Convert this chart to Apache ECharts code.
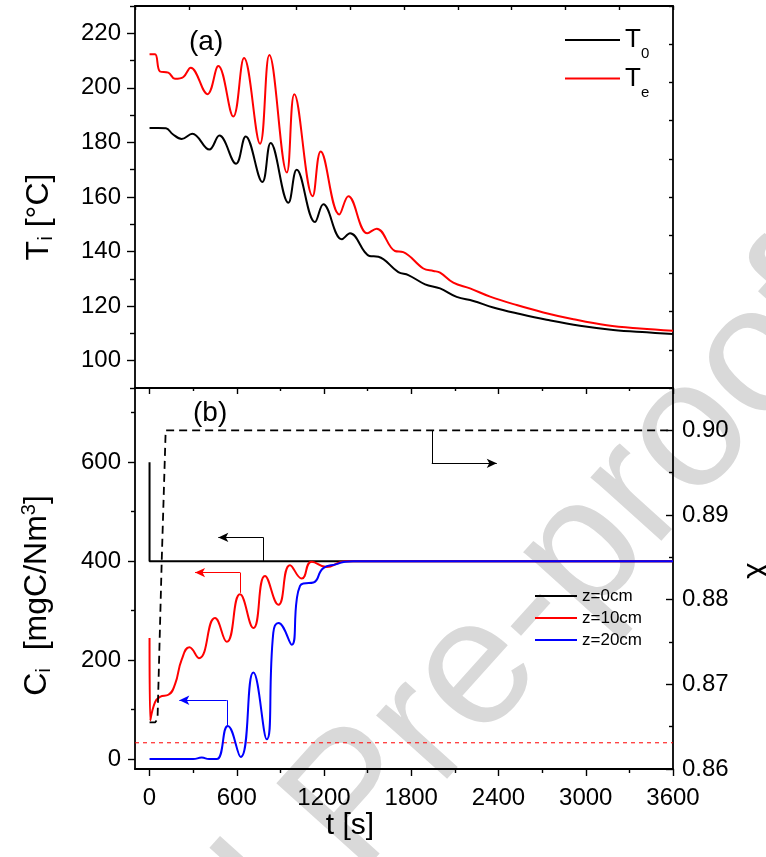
<!DOCTYPE html>
<html><head><meta charset="utf-8">
<script src="https://cdn.jsdelivr.net/npm/echarts@6/dist/echarts.min.js"></script>
<style>html,body{margin:0;padding:0;background:#fff}#c{width:766px;height:857px}</style>
</head><body><div id="c"></div>
<script>
const FONT = '"Liberation Sans", Arial, sans-serif';

// ---- tick values ----
const tMajor = [0, 600, 1200, 1800, 2400, 3000, 3600];
const tMinor = [300, 900, 1500, 2100, 2700, 3300];
const TMajor = [100, 120, 140, 160, 180, 200, 220];
const TMinor = [90, 110, 130, 150, 170, 190, 210, 230];
const CMajor = [0, 200, 400, 600];
const CMinor = [100, 300, 500, 700];
const chiMajor = [0.86, 0.87, 0.88, 0.89, 0.90];
const chiMinor = [0.865, 0.875, 0.885, 0.895];

// ---- panel (a): temperatures [t, T] ----
const T0 = [[0,185.3],[60,185.3],[113,185.2],[160,183],[221,181.3],[294,183.2],[411,177.4],[480,182.5],[595,172.2],[661,182.2],[776,165.5],[833,179.8],[955,157.9],[1012,170],[1138,150.8],[1195,157.3],[1322,144.5],[1379,146.7],[1512,138.4],[1574,138.1],[1711,132.5],[1780,131.4],[1895,128],[1998,126.5],[2112,123.4],[2227,121.9],[2364,119.5],[2548,117.1],[2731,115],[2960,112.8],[3189,111.3],[3419,110.4],[3600,109.8]];
const Te = [[0,212.3],[38,212.3],[72,206],[129,205.6],[175,203.3],[233,204],[283,207.4],[398,197.7],[473,208],[576,189.5],[650,210.9],[760,179.5],[824,212],[944,169],[996,197.7],[1122,160.3],[1177,176.7],[1305,153.6],[1367,160.3],[1498,146.7],[1562,148.4],[1688,140.2],[1745,139.8],[1883,133.8],[1952,132.9],[1998,132.3],[2089,128.6],[2204,126.5],[2342,123.5],[2525,120.4],[2708,117.7],[2915,115.2],[3144,113],[3373,111.8],[3600,111]];

// ---- panel (b): concentrations [t, C] ----
const Cz0 = [[0,600],[0,400],[3600,400]];
const Cz10 = [[0,245],[5,78],[38,115],[72,126],[130,130],[175,151],[221,201],[274,226],[340,204],[450,285],[531,237],[622,333],[714,265],[794,370],[886,312],[966,392],[1047,365],[1115,399],[1219,388],[1310,398],[1360,400],[3600,400]];
const Cz20 = [[0,0],[300,0],[359,3],[410,0],[462,0],[538,67],[627,4],[714,175],[806,40],[851,255],[886,275],[978,231],[1012,322],[1035,350],[1058,355],[1127,357],[1195,386],[1287,394],[1344,399],[1400,400],[3600,400]];
const chi = [[0,0.8655],[38,0.8655],[55,0.8659],[84,0.8847],[111,0.900],[3600,0.900]];
const Climit = [[-100,33],[3600,33]];

const AX = {color:'#000', width:1.8};
const TK = {color:'#000', width:1.4};
const lbl = (vals, fmt, margin) => ({show:true, customValues:vals, fontSize:24, fontFamily:FONT, color:'#000', margin:margin, formatter:fmt});
const noLbl = {show:false};
const noSplit = {show:false};

function xAxis(grid, pos, opt) {
  return Object.assign({gridIndex:grid, type:'value', position:pos, min:-100, max:3600,
    axisLine:{show:opt.line!==false, onZero:false, lineStyle:AX},
    axisTick:opt.ticks ? {show:true, customValues:opt.ticks, inside:!!opt.inside, length:opt.len, lineStyle:TK} : {show:false},
    axisLabel:opt.labels || noLbl, splitLine:noSplit}, opt.extra || {});
}
function yAxis(grid, pos, min, max, opt) {
  return Object.assign({gridIndex:grid, type:'value', position:pos, min:min, max:max,
    axisLine:{show:opt.line!==false, onZero:false, lineStyle:AX},
    axisTick:opt.ticks ? {show:true, customValues:opt.ticks, inside:!!opt.inside, length:opt.len, lineStyle:TK} : {show:false},
    axisLabel:opt.labels || noLbl, splitLine:noSplit}, opt.extra || {});
}

const option = {
  animation:false,
  backgroundColor:'#fff',
  grid:[
    {left:135, right:93, top:6, height:382, outerBoundsMode:'none', containLabel:false},
    {left:135, right:93, top:388, height:381, outerBoundsMode:'none', containLabel:false}
  ],
  xAxis:[
    xAxis(0,'bottom',{}),
    {gridIndex:0, type:'value', position:'top', min:0, max:10, interval:1,
      axisLine:{show:true, onZero:false, lineStyle:AX}, axisTick:{show:true, inside:true, length:4, lineStyle:TK},
      axisLabel:noLbl, splitLine:noSplit},
    xAxis(1,'bottom',{ticks:tMajor, len:7, labels:lbl(tMajor, v=>String(v), 17),
      extra:{name:'t [s]', nameLocation:'middle', nameGap:40,
        nameTextStyle:{fontSize:30, fontFamily:FONT, color:'#000', padding:[0,108,0,0]}}}),
    xAxis(1,'bottom',{ticks:tMinor, len:4, line:false}),
    xAxis(1,'top',{ticks:tMajor, len:6, inside:true}),
    xAxis(1,'top',{ticks:tMinor, len:3, inside:true, line:false})
  ],
  yAxis:[
    yAxis(0,'left',90,230,{ticks:TMajor, len:8, labels:lbl(TMajor, v=>String(v), 14),
      extra:{name:'{t|T}{s|i}{t| [°C]}', nameLocation:'middle', nameGap:78, nameRotate:90,
        nameTextStyle:{color:'#000', padding:[0,40,0,0], rich:{
          t:{fontSize:32, fontFamily:FONT, color:'#000'},
          s:{fontSize:21, fontFamily:FONT, color:'#000', padding:[14,0,0,0]}}}}}),
    yAxis(0,'left',90,230,{ticks:TMinor, len:5, line:false}),
    {gridIndex:0, type:'value', position:'right', min:0, max:10, interval:1,
      axisLine:{show:true, onZero:false, lineStyle:AX}, axisTick:{show:true, inside:true, length:4, lineStyle:TK},
      axisLabel:noLbl, splitLine:noSplit},
    yAxis(1,'left',-20,750,{ticks:CMajor, len:7, labels:lbl(CMajor, v=>String(v), 14),
      extra:{name:'{t|C}{s|i}{t|  [mgC/Nm}{p|3}{t|]}', nameLocation:'middle', nameGap:80, nameRotate:90,
        nameTextStyle:{color:'#000', padding:[0,34,0,0], rich:{
          t:{fontSize:32, fontFamily:FONT, color:'#000'},
          s:{fontSize:21, fontFamily:FONT, color:'#000', padding:[14,0,0,0]},
          p:{fontSize:20, fontFamily:FONT, color:'#000', padding:[0,0,16,0]}}}}}),
    yAxis(1,'left',-20,750,{ticks:CMinor, len:4, line:false}),
    yAxis(1,'right',0.86,0.905,{ticks:chiMajor, len:7, inside:true, labels:lbl(chiMajor, v=>v.toFixed(2), 9),
      extra:{name:'χ', nameLocation:'middle', nameGap:60, nameRotate:90,
        nameTextStyle:{fontSize:32, fontFamily:FONT, color:'#000', padding:[0,0,0,16]}}}),
    yAxis(1,'right',0.86,0.905,{ticks:chiMinor, len:4, inside:true, line:false})
  ],
  legend:[
    {data:['T0','Te'], orient:'vertical', left:560, top:22, itemWidth:55, itemHeight:2, itemGap:4, icon:'rect',
      formatter:n => n==='T0' ? '{t|T}{s|0}' : '{t|T}{s|e}',
      textStyle:{rich:{
        t:{fontSize:26, fontFamily:FONT, color:'#000'},
        s:{fontSize:15, fontFamily:FONT, color:'#000', padding:[28,0,0,0]}}}},
    {data:['z=0cm','z=10cm','z=20cm'], orient:'vertical', left:530, top:580, itemWidth:42, itemHeight:2, itemGap:0, icon:'rect',
      textStyle:{fontSize:17, fontFamily:FONT, color:'#000', lineHeight:22}}
  ],
  graphic:[
    {type:'text', z:-10, x:-40, y:1380, rotation:48*Math.PI/180,
      style:{text:'Journal Pre-proof', font:'180px "Liberation Sans", Arial, sans-serif', fill:'#d9d9d9', textAlign:'left', textVerticalAlign:'bottom'}},
    {type:'text', left:189, top:28, style:{text:'(a)', font:'28px "Liberation Sans", Arial, sans-serif', fill:'#000'}},
    {type:'text', left:193, top:399, style:{text:'(b)', font:'28px "Liberation Sans", Arial, sans-serif', fill:'#000'}}
  ],
  series:[
    {name:'T0', type:'line', xAxisIndex:0, yAxisIndex:0, data:T0, smooth:0.4, showSymbol:false, symbol:'none',
      color:'#000', lineStyle:{color:'#000', width:2}},
    {name:'Te', type:'line', xAxisIndex:0, yAxisIndex:0, data:Te, smooth:0.4, showSymbol:false, symbol:'none',
      color:'#ff0000', lineStyle:{color:'#ff0000', width:2}},
    {name:'limit', type:'line', xAxisIndex:2, yAxisIndex:3, data:Climit, symbol:'none',
      lineStyle:{color:'#ff0000', width:1, type:[4,4]}},
    {name:'z=0cm', type:'line', xAxisIndex:2, yAxisIndex:3, data:Cz0, symbol:'none',
      color:'#000', lineStyle:{color:'#000', width:2},
      markLine:{silent:true, symbol:['none','arrow'], symbolSize:[7,10], label:{show:false},
        lineStyle:{color:'#000', width:1, type:'solid'},
        data:[[{coord:[783,400]},{coord:[783,448], symbol:'none'}],[{coord:[783,448]},{coord:[473,448]}]]}},
    {name:'z=10cm', type:'line', xAxisIndex:2, yAxisIndex:3, data:Cz10, smooth:0.5, symbol:'none',
      color:'#ff0000', lineStyle:{color:'#ff0000', width:2},
      markLine:{silent:true, symbol:['none','arrow'], symbolSize:[7,10], label:{show:false},
        lineStyle:{color:'#ff0000', width:1, type:'solid'},
        data:[[{coord:[622,336]},{coord:[622,377], symbol:'none'}],[{coord:[622,377]},{coord:[313,377]}]]}},
    {name:'z=20cm', type:'line', xAxisIndex:2, yAxisIndex:3, data:Cz20, smooth:0.5, symbol:'none',
      color:'#0000ff', lineStyle:{color:'#0000ff', width:2},
      markLine:{silent:true, symbol:['none','arrow'], symbolSize:[7,10], label:{show:false},
        lineStyle:{color:'#0000ff', width:1, type:'solid'},
        data:[[{coord:[531,69]},{coord:[531,119], symbol:'none'}],[{coord:[531,119]},{coord:[205,119]}]]}},
    {name:'chi', type:'line', xAxisIndex:2, yAxisIndex:5, data:chi, symbol:'none',
      color:'#000', lineStyle:{color:'#000', width:1.8, type:[8,5]},
      markLine:{silent:true, symbol:['none','arrow'], symbolSize:[7,10], label:{show:false},
        lineStyle:{color:'#000', width:1, type:'solid'},
        data:[[{coord:[1941,0.900]},{coord:[1941,0.8961]}, ],[{coord:[1941,0.8961]},{coord:[2388,0.8961]}]].map((p,i)=> i===0 ? [p[0], Object.assign({}, p[1], {symbol:'none'})] : p)}}
  ]
};
const chart = echarts.init(document.getElementById('c'), null, {renderer:'canvas'});
chart.setOption(option);
</script>
</body></html>
